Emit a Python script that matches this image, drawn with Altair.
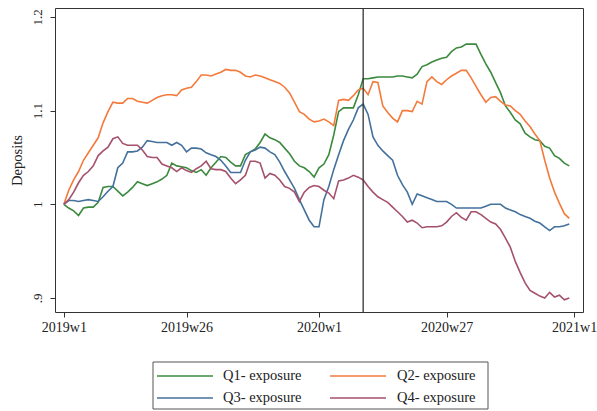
import altair as alt
import pandas as pd

# Weekly deposit index (2019w1 = 1), by exposure quartile; week 0 = 2019w1, 103 = 2020w52
weeks = list(range(104))

q1 = [1.000, 0.996, 0.993, 0.988, 0.996, 0.997, 0.997, 1.002, 1.018, 1.019,
      1.019, 1.014, 1.009, 1.013, 1.018, 1.024, 1.022, 1.020, 1.022, 1.024,
      1.027, 1.031, 1.044, 1.041, 1.040, 1.039, 1.036, 1.034, 1.037, 1.031,
      1.039, 1.045, 1.051, 1.050, 1.045, 1.041, 1.041, 1.053, 1.056, 1.059,
      1.066, 1.075, 1.071, 1.069, 1.066, 1.060, 1.054, 1.046, 1.041, 1.039,
      1.035, 1.029, 1.039, 1.043, 1.053, 1.074, 1.099, 1.103, 1.103, 1.103,
      1.117, 1.134, 1.134, 1.135, 1.136, 1.136, 1.136, 1.136, 1.137, 1.137,
      1.136, 1.135, 1.139, 1.147, 1.149, 1.152, 1.154, 1.156, 1.157, 1.163,
      1.167, 1.168, 1.171, 1.171, 1.171, 1.160, 1.150, 1.141, 1.130, 1.119,
      1.105, 1.098, 1.090, 1.086, 1.076, 1.072, 1.069, 1.068, 1.062, 1.060,
      1.052, 1.049, 1.044, 1.041]

q2 = [1.000, 1.015, 1.026, 1.035, 1.047, 1.055, 1.063, 1.071, 1.087, 1.099,
      1.109, 1.108, 1.108, 1.113, 1.113, 1.110, 1.109, 1.108, 1.111, 1.114,
      1.116, 1.117, 1.117, 1.116, 1.122, 1.124, 1.125, 1.131, 1.138, 1.138,
      1.137, 1.139, 1.141, 1.144, 1.143, 1.143, 1.141, 1.137, 1.136, 1.138,
      1.137, 1.135, 1.133, 1.131, 1.129, 1.125, 1.119, 1.109, 1.099, 1.096,
      1.091, 1.088, 1.089, 1.091, 1.088, 1.084, 1.111, 1.112, 1.111, 1.116,
      1.122, 1.124, 1.117, 1.131, 1.130, 1.105, 1.098, 1.092, 1.088, 1.100,
      1.100, 1.099, 1.110, 1.107, 1.131, 1.136, 1.131, 1.128, 1.133, 1.137,
      1.140, 1.143, 1.143, 1.135, 1.126, 1.117, 1.109, 1.114, 1.115, 1.110,
      1.106, 1.105, 1.100, 1.096, 1.089, 1.083, 1.075, 1.068, 1.047, 1.028,
      1.013, 1.001, 0.990, 0.985]

q3 = [1.000, 1.004, 1.004, 1.003, 1.004, 1.005, 1.004, 1.003, 1.008, 1.014,
      1.019, 1.039, 1.044, 1.056, 1.056, 1.057, 1.061, 1.068, 1.067, 1.066,
      1.066, 1.066, 1.063, 1.066, 1.063, 1.056, 1.060, 1.060, 1.059, 1.055,
      1.053, 1.051, 1.047, 1.041, 1.034, 1.034, 1.034, 1.047, 1.056, 1.058,
      1.061, 1.060, 1.056, 1.053, 1.045, 1.035, 1.026, 1.017, 1.005, 0.994,
      0.983, 0.976, 0.976, 1.005, 1.019, 1.037, 1.053, 1.068, 1.080, 1.090,
      1.103, 1.107, 1.096, 1.072, 1.063, 1.057, 1.052, 1.047, 1.031, 1.021,
      1.013, 1.000, 1.011, 1.009, 1.007, 1.005, 1.003, 1.003, 1.003, 1.000,
      0.996, 0.996, 0.996, 0.996, 0.996, 0.996, 0.998, 1.000, 1.000, 1.000,
      0.996, 0.994, 0.992, 0.989, 0.987, 0.985, 0.982, 0.980, 0.976, 0.972,
      0.976, 0.976, 0.977, 0.979]

q4 = [1.000, 1.005, 1.013, 1.023, 1.031, 1.035, 1.041, 1.052, 1.057, 1.061,
      1.070, 1.072, 1.065, 1.063, 1.063, 1.063, 1.058, 1.051, 1.050, 1.050,
      1.043, 1.041, 1.039, 1.035, 1.039, 1.036, 1.034, 1.038, 1.041, 1.046,
      1.038, 1.037, 1.037, 1.035, 1.028, 1.022, 1.026, 1.031, 1.046, 1.046,
      1.044, 1.028, 1.033, 1.031, 1.026, 1.019, 1.017, 1.013, 1.003, 1.013,
      1.018, 1.020, 1.019, 1.015, 1.012, 1.006, 1.025, 1.026, 1.028, 1.031,
      1.029, 1.026, 1.019, 1.013, 1.008, 1.005, 1.002, 0.997, 0.992, 0.987,
      0.981, 0.983, 0.980, 0.975, 0.976, 0.976, 0.976, 0.977, 0.981, 0.987,
      0.991, 0.986, 0.983, 0.992, 0.992, 0.989, 0.985, 0.981, 0.979, 0.973,
      0.964, 0.954, 0.939, 0.927, 0.916, 0.908, 0.905, 0.902, 0.900, 0.906,
      0.901, 0.903, 0.898, 0.900]

series_names = ["Q1- exposure", "Q2- exposure", "Q3- exposure", "Q4- exposure"]
series_colors = ["#3b8a3e", "#f47a3c", "#44719c", "#a4516c"]
series_values = [q1, q2, q3, q4]

tick_weeks = [0, 25, 52, 78, 104]
tick_labels = ["2019w1", "2019w26", "2020w1", "2020w27", "2021w1"]
y_ticks = [0.9, 1.0, 1.1, 1.2]
event_week = 61  # 2020w10

FONT = "Liberation Serif"
INK = "#333333"
TEXT = "#222222"

rows = []
for name, vals in zip(series_names, series_values):
    for w, v in zip(weeks, vals):
        rows.append({"week": w, "deposits": v, "series": name})
df = pd.DataFrame(rows)

label_expr = " : ".join(
    f"datum.value == {w} ? '{lab}'" for w, lab in zip(tick_weeks, tick_labels)
) + " : ''"

x_scale = alt.Scale(domain=[-1.8, 105.8], nice=False, zero=False)
y_scale = alt.Scale(domain=[0.885, 1.2096], nice=False, zero=False)
color_scale = alt.Scale(domain=series_names, range=series_colors)

lines = alt.Chart(df).mark_line(strokeWidth=1.6, clip=True).encode(
    x=alt.X(
        "week:Q",
        scale=x_scale,
        axis=alt.Axis(
            values=tick_weeks, labelExpr=label_expr, title=None, grid=False,
            domain=False, tickColor=INK, tickSize=5, labelPadding=3,
            labelFont=FONT, labelFontSize=14, labelColor=TEXT,
        ),
    ),
    y=alt.Y(
        "deposits:Q",
        scale=y_scale,
        axis=alt.Axis(
            values=y_ticks, labelExpr="replace(format(datum.value, '.1~f'), /^0/, '')",
            title="Deposits", grid=False, domain=False, tickColor=INK, tickSize=5,
            labelAngle=270, labelPadding=6, labelFont=FONT, labelFontSize=13,
            labelColor=TEXT, titleFont=FONT, titleFontSize=14.5,
            titleFontWeight="normal", titleColor=TEXT, titlePadding=7,
        ),
    ),
    color=alt.Color("series:N", scale=color_scale, legend=None),
    detail="series:N",
)

event = alt.Chart(pd.DataFrame({"week": [event_week]})).mark_rule(
    color=INK, strokeWidth=1.3
).encode(x=alt.X("week:Q", scale=x_scale))

# Legend box below the plot, two columns of entries
one = pd.DataFrame({"k": [0]})
box = alt.Chart(one).mark_rect(fillOpacity=0, stroke="#555555", strokeWidth=1).encode(
    x=alt.value(98), x2=alt.value(433), y=alt.value(354), y2=alt.value(401)
)

legend_layers = [box]
col_line_x = [(102, 158), (275, 331)]
col_text_x = [168, 342]
row_y = [368, 390]
for i, (name, colr) in enumerate(zip(series_names, series_colors)):
    c, r = i % 2, i // 2
    x0, x1 = col_line_x[c]
    legend_layers.append(
        alt.Chart(one).mark_rule(color=colr, strokeWidth=1.6).encode(
            x=alt.value(x0), x2=alt.value(x1), y=alt.value(row_y[r])
        )
    )
    legend_layers.append(
        alt.Chart(pd.DataFrame({"label": [name]})).mark_text(
            align="left", baseline="middle", font=FONT, fontSize=14.5, color=TEXT
        ).encode(x=alt.value(col_text_x[c]), y=alt.value(row_y[r]), text="label:N")
    )

chart = alt.layer(lines, event, *legend_layers).properties(
    width=528,
    height=304,
    autosize=alt.AutoSizeParams(type="none"),
    padding={"left": 55, "top": 8, "right": 14, "bottom": 99},
    background="white",
).configure_view(stroke=INK, strokeWidth=1)

chart.save("out.html", embed_options={"renderer": "svg", "actions": False})
